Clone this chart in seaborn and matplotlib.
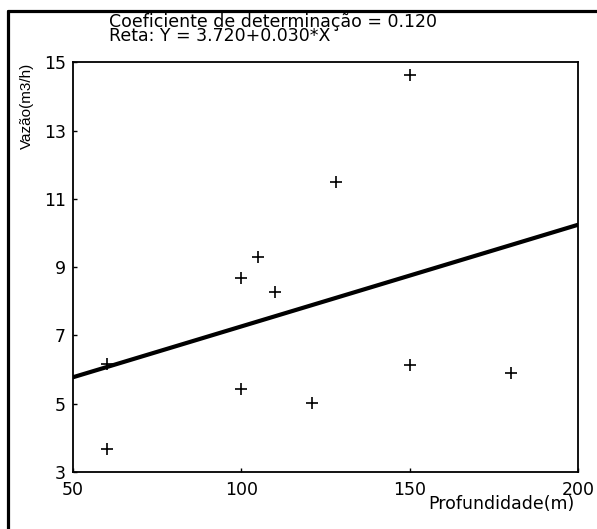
import numpy as np
import pandas as pd
import seaborn as sns
import matplotlib.pyplot as plt
from matplotlib.lines import Line2D

profundidade = [60, 60, 100, 100, 105, 110, 121, 128, 150, 150, 180]
vazao = [6.16, 3.67, 8.67, 5.43, 9.30, 8.28, 5.01, 11.50, 14.62, 6.14, 5.89]

# regression line as drawn
line_x = [50, 200]
line_y = [5.77, 10.24]

x_ticks = [50, 100, 150, 200]
y_ticks = [3, 5, 7, 9, 11, 13, 15]

sns.set_style("ticks")
plt.rcParams['font.family'] = ['DejaVu Sans']
plt.rcParams['text.color'] = 'black'

fig = plt.figure(figsize=(5.97, 5.29), dpi=100)
ax = fig.add_axes([0.1223, 0.1083, 0.968 - 0.1223, 0.8819 - 0.1083])

df = pd.DataFrame({'x': profundidade, 'y': vazao})
sns.lineplot(x=line_x, y=line_y, ax=ax, color='black', linewidth=3.0)
sns.scatterplot(data=df, x='x', y='y', ax=ax, marker='+', color='black',
                s=75, linewidth=1.2)

ax.set_xlim(50, 200)
ax.set_ylim(3, 15)
ax.set_xticks(x_ticks)
ax.set_yticks(y_ticks)
ax.tick_params(direction='in', length=3, width=1, colors='black',
               labelsize=12.5)
ax.tick_params(axis='x', pad=7)
ax.tick_params(axis='y', pad=5)
for s in ax.spines.values():
    s.set_visible(True)
    s.set_linewidth(1.3)
    s.set_color('black')

ax.set_xlabel('')
ax.set_ylabel('')
fig.text(0.9615, 0.047, 'Profundidade(m)', ha='right', va='center', fontsize=12.5)
fig.text(0.045, 0.8819, 'Vazão(m3/h)', ha='center', va='top', rotation=90,
         fontsize=11, family=['Liberation Sans Narrow', 'Liberation Sans'])
fig.text(0.1826, 1 - 27 / 529, 'Coeficiente de determinação = 0.120',
         ha='left', va='baseline', fontsize=12.5)
fig.text(0.1826, 1 - 41 / 529, 'Reta: Y = 3.720+0.030*X', ha='left',
         va='baseline', fontsize=12.5)

# outer frame (left and top edges only)
fig.add_artist(Line2D([8 / 597, 8 / 597], [0, 1 - 10.5 / 529],
                      transform=fig.transFigure, color='black', linewidth=2.3))
fig.add_artist(Line2D([8 / 597, 1], [1 - 10.5 / 529, 1 - 10.5 / 529],
                      transform=fig.transFigure, color='black', linewidth=2.3))

plt.savefig("out.png", dpi=100)
plt.close()
